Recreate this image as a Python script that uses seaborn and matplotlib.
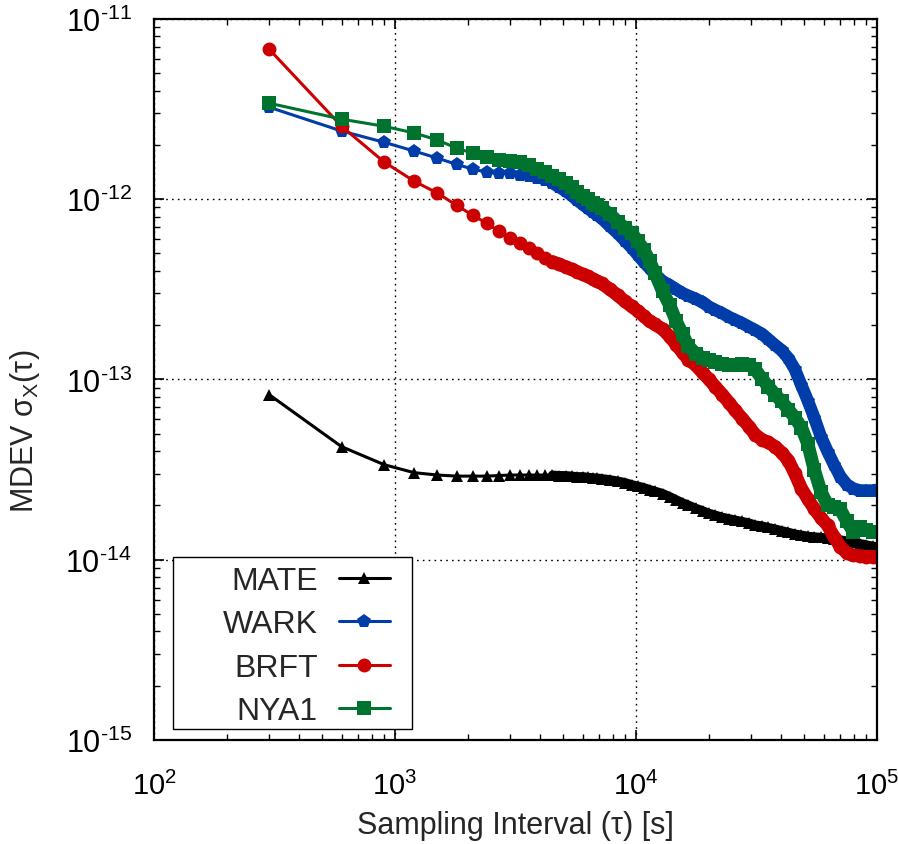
import matplotlib
matplotlib.use("Agg")
import matplotlib.pyplot as plt
import numpy as np
import seaborn as sns
from matplotlib.patches import Rectangle
from matplotlib.ticker import FuncFormatter, NullFormatter

# ------------------------------------------------
# Data
# ------------------------------------------------

tau = [
    300, 600, 900, 1200, 1500, 1800, 2100, 2400, 2700, 3000,
    3300, 3600, 3900, 4200, 4500, 4800, 5100, 5400, 5700, 6000,
    6300, 6600, 6900, 7200, 7800, 8400, 9000, 9600, 10200, 10800,
    11400, 12000, 12900, 13800, 14700, 15600, 16500, 17700, 18900, 20100,
    21300, 22800, 24300, 25800, 27600, 29400, 31200, 33300, 35400, 37800,
    40200, 42900, 45600, 48600, 51600, 54900, 58500, 62400, 66300, 70500,
    75000, 79800, 84900, 90300, 96000, 99900,
]

mate = [
    8.25e-14, 4.24e-14, 3.37e-14, 3.04e-14, 2.95e-14, 2.91e-14, 2.91e-14, 2.91e-14, 2.93e-14, 2.95e-14,
    2.95e-14, 2.95e-14, 2.95e-14, 2.95e-14, 2.95e-14, 2.93e-14, 2.93e-14, 2.91e-14, 2.89e-14, 2.89e-14,
    2.87e-14, 2.85e-14, 2.84e-14, 2.82e-14, 2.78e-14, 2.73e-14, 2.68e-14, 2.61e-14, 2.56e-14, 2.51e-14,
    2.45e-14, 2.40e-14, 2.33e-14, 2.24e-14, 2.15e-14, 2.07e-14, 2.01e-14, 1.93e-14, 1.87e-14, 1.81e-14,
    1.77e-14, 1.72e-14, 1.69e-14, 1.66e-14, 1.63e-14, 1.60e-14, 1.56e-14, 1.54e-14, 1.51e-14, 1.48e-14,
    1.45e-14, 1.42e-14, 1.39e-14, 1.37e-14, 1.35e-14, 1.34e-14, 1.33e-14, 1.32e-14, 1.31e-14, 1.29e-14,
    1.27e-14, 1.25e-14, 1.23e-14, 1.21e-14, 1.19e-14, 1.18e-14,
]

wark = [
    3.24e-12, 2.39e-12, 2.07e-12, 1.85e-12, 1.69e-12, 1.56e-12, 1.47e-12, 1.41e-12, 1.39e-12, 1.39e-12,
    1.37e-12, 1.34e-12, 1.31e-12, 1.28e-12, 1.23e-12, 1.17e-12, 1.11e-12, 1.05e-12, 9.87e-13, 9.38e-13,
    8.91e-13, 8.52e-13, 8.15e-13, 7.84e-13, 7.08e-13, 6.47e-13, 5.88e-13, 5.38e-13, 4.89e-13, 4.47e-13,
    4.14e-13, 3.83e-13, 3.50e-13, 3.33e-13, 3.16e-13, 3.01e-13, 2.91e-13, 2.80e-13, 2.68e-13, 2.53e-13,
    2.43e-13, 2.33e-13, 2.22e-13, 2.14e-13, 2.05e-13, 1.96e-13, 1.88e-13, 1.79e-13, 1.67e-13, 1.55e-13,
    1.45e-13, 1.31e-13, 1.14e-13, 9.26e-14, 7.64e-14, 6.15e-14, 4.82e-14, 3.98e-14, 3.37e-14, 2.89e-14,
    2.61e-14, 2.48e-14, 2.42e-14, 2.42e-14, 2.42e-14, 2.44e-14,
]

brft = [
    6.81e-12, 2.54e-12, 1.61e-12, 1.26e-12, 1.08e-12, 9.26e-13, 8.15e-13, 7.36e-13, 6.64e-13, 6.07e-13,
    5.70e-13, 5.34e-13, 5.01e-13, 4.70e-13, 4.50e-13, 4.35e-13, 4.22e-13, 4.08e-13, 3.96e-13, 3.83e-13,
    3.73e-13, 3.62e-13, 3.50e-13, 3.41e-13, 3.16e-13, 2.93e-13, 2.71e-13, 2.54e-13, 2.39e-13, 2.24e-13,
    2.10e-13, 2.02e-13, 1.90e-13, 1.73e-13, 1.56e-13, 1.41e-13, 1.29e-13, 1.20e-13, 1.09e-13, 1.00e-13,
    9.14e-14, 8.25e-14, 7.45e-14, 6.73e-14, 6.07e-14, 5.48e-14, 4.95e-14, 4.64e-14, 4.47e-14, 4.24e-14,
    3.93e-14, 3.55e-14, 3.01e-14, 2.48e-14, 2.18e-14, 1.92e-14, 1.71e-14, 1.55e-14, 1.34e-14, 1.18e-14,
    1.09e-14, 1.06e-14, 1.05e-14, 1.04e-14, 1.04e-14, 1.04e-14,
]

nya1 = [
    3.41e-12, 2.78e-12, 2.54e-12, 2.33e-12, 2.13e-12, 1.92e-12, 1.80e-12, 1.71e-12, 1.66e-12, 1.63e-12,
    1.60e-12, 1.54e-12, 1.48e-12, 1.41e-12, 1.35e-12, 1.29e-12, 1.23e-12, 1.17e-12, 1.09e-12, 1.04e-12,
    1.00e-12, 9.50e-13, 9.26e-13, 8.91e-13, 8.25e-13, 7.50e-13, 6.90e-13, 6.47e-13, 5.84e-13, 5.21e-13,
    4.52e-13, 3.88e-13, 3.08e-13, 2.58e-13, 2.10e-13, 1.78e-13, 1.53e-13, 1.39e-13, 1.32e-13, 1.28e-13,
    1.25e-13, 1.22e-13, 1.20e-13, 1.21e-13, 1.22e-13, 1.21e-13, 1.14e-13, 1.01e-13, 9.14e-14, 8.25e-14,
    7.55e-14, 6.81e-14, 6.15e-14, 5.41e-14, 4.41e-14, 3.16e-14, 2.39e-14, 2.00e-14, 1.97e-14, 1.90e-14,
    1.63e-14, 1.43e-14, 1.51e-14, 1.47e-14, 1.43e-14, 1.43e-14,
]

stations = ["MATE", "WARK", "BRFT", "NYA1"]
series = [mate, wark, brft, nya1]

colors = {"MATE": "black", "WARK": "#003DA8", "BRFT": "#CC0000", "NYA1": "#00742E"}
markers = {"MATE": "^", "WARK": "p", "BRFT": "o", "NYA1": "s"}
msizes = {"MATE": 8.5, "WARK": 10.5, "BRFT": 10, "NYA1": 9.5}
# width of the merged marker trail where samples overlap
band_lw = {"MATE": 6.5, "WARK": 9.0, "BRFT": 9.5, "NYA1": 9.5}
DENSE_FROM = 14  # index into tau from where markers overlap into a band


def sci_label(v, pos):
    e = int(round(np.log10(v)))
    if e < 0:
        return r"$\mathregular{10^{\text{-}%d}}$" % (-e)
    return r"$\mathregular{10^{%d}}$" % e


def main():
    sns.set_style("ticks")
    plt.rcParams["font.family"] = ["Liberation Sans", "DejaVu Sans"]
    plt.rcParams["mathtext.fontset"] = "custom"
    plt.rcParams["mathtext.rm"] = "Liberation Sans"
    plt.rcParams["mathtext.it"] = "Liberation Sans:italic"
    plt.rcParams["mathtext.bf"] = "Liberation Sans:bold"

    fig = plt.figure(figsize=(8.98, 8.45), dpi=100)
    ax = fig.add_axes([0.1715, 0.1231, 0.8051, 0.8533])
    ax.set_xscale("log")
    ax.set_yscale("log")

    # ------------------------------------------------
    # Curves
    # ------------------------------------------------
    for name, vals in zip(stations, series):
        sns.lineplot(
            x=tau, y=vals, ax=ax,
            color=colors[name], marker=markers[name], markersize=msizes[name],
            markeredgewidth=0, linewidth=2.2, label=name, sort=False,
        )
        sns.lineplot(
            x=tau[DENSE_FROM:], y=vals[DENSE_FROM:], ax=ax,
            color=colors[name], linewidth=band_lw[name], sort=False,
            legend=False, solid_joinstyle="round", solid_capstyle="round",
        )

    ax.set_xlim(1e2, 1e5)
    ax.set_ylim(1e-15, 1e-11)

    # ------------------------------------------------
    # Axes styling (gnuplot look)
    # ------------------------------------------------
    ax.grid(True, which="major", color="black", linestyle=(0, (1.2, 3)), linewidth=1.0)
    ax.tick_params(which="both", direction="in", top=True, right=True, colors="black")
    ax.tick_params(which="major", length=7, width=1.2, labelsize=22)
    ax.tick_params(which="minor", length=4, width=1.0)
    ax.tick_params(axis="y", which="major", pad=16)
    ax.tick_params(axis="x", which="major", pad=22, labelsize=21)
    for axis in (ax.xaxis, ax.yaxis):
        axis.set_major_formatter(FuncFormatter(sci_label))
        axis.set_minor_formatter(NullFormatter())
    for sp in ax.spines.values():
        sp.set_linewidth(1.6)
        sp.set_color("black")

    ax.set_xlabel("Sampling Interval (τ) [s]", fontsize=22)
    ax.set_ylabel("MDEV σ$_{\\mathregular{X}}$(τ)", fontsize=22)
    ax.xaxis.set_label_coords(0.5, -0.097)
    ax.yaxis.set_label_coords(-0.155, 0.43)

    # ------------------------------------------------
    # Legend (text first, sample after) in a gnuplot-like box
    # ------------------------------------------------
    frame = Rectangle(
        (0.026, 0.015), 0.331, 0.2386, transform=ax.transAxes,
        facecolor="white", edgecolor="black", linewidth=1.0, zorder=4.5,
    )
    ax.add_patch(frame)
    ax.legend(
        loc="lower right", bbox_to_anchor=(0.337, 0.008), markerfirst=False,
        fontsize=23, frameon=False, handlelength=1.6, handletextpad=0.65,
        labelspacing=0.42, borderpad=0.25, borderaxespad=0,
    )

    fig.savefig("out.png", dpi=100)


if __name__ == "__main__":
    main()
